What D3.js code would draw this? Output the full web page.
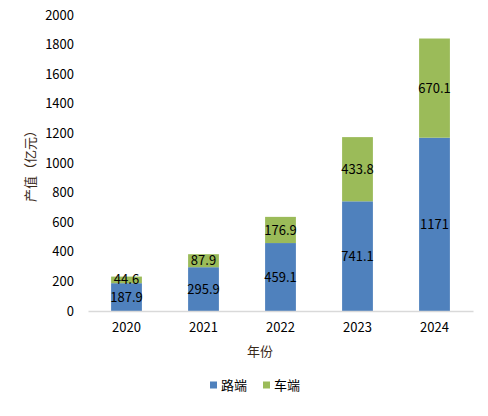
<!DOCTYPE html>
<html>
<head>
<meta charset="utf-8">
<script src="https://cdn.jsdelivr.net/npm/d3@7"></script>
<style>
  body { margin: 0; background: #fff; }
  text { font-family: "Noto Sans CJK SC", "Noto Sans", sans-serif; }
</style>
</head>
<body>
<script>
var years = ["2020", "2021", "2022", "2023", "2024"];
var roadSide = [187.9, 295.9, 459.1, 741.1, 1171];
var carSide = [44.6, 87.9, 176.9, 433.8, 670.1];
var seriesNames = ["路端", "车端"];
var seriesColors = ["#4F81BD", "#9BBB59"];
var yTicks = [0, 200, 400, 600, 800, 1000, 1200, 1400, 1600, 1800, 2000];

var width = 488, height = 416;
var margin = {top: 15, right: 15, bottom: 105, left: 88};
var plotW = width - margin.left - margin.right,
    plotH = height - margin.top - margin.bottom;

var svg = d3.select("body").append("svg")
  .attr("width", width)
  .attr("height", height);

var main = svg.append("g")
  .attr("transform", "translate(" + margin.left + "," + margin.top + ")");

var x = d3.scaleBand()
  .domain(years)
  .range([0, plotW])
  .paddingInner(0.6)
  .paddingOuter(0.3);

var y = d3.scaleLinear()
  .domain([0, 2000])
  .range([plotH, 0]);

// stacked data
var table = years.map(function(yr, i) {
  return {year: yr, road: roadSide[i], car: carSide[i]};
});
var stack = d3.stack().keys(["road", "car"]);
var layers = stack(table);

// y axis labels only (no line)
var yAxis = d3.axisLeft(y).tickValues(yTicks).tickFormat(d3.format("d")).tickSize(0).tickPadding(14);
var gy = main.append("g").call(yAxis);
gy.select(".domain").remove();
gy.selectAll("text").attr("font-size", "13px").attr("fill", "#000");

// bars
var layerG = main.selectAll(".layer")
  .data(layers)
  .enter().append("g")
  .attr("fill", function(d, i) { return seriesColors[i]; });

layerG.selectAll("rect")
  .data(function(d) { return d; })
  .enter().append("rect")
  .attr("x", function(d) { return x(d.data.year); })
  .attr("y", function(d) { return y(d[1]); })
  .attr("width", x.bandwidth())
  .attr("height", function(d) { return y(d[0]) - y(d[1]); });

// x axis
var xAxis = d3.axisBottom(x).tickSize(0).tickPadding(12);
var gx = main.append("g")
  .attr("transform", "translate(0," + plotH + ")")
  .call(xAxis);
gx.select(".domain").attr("stroke", "#d9d9d9").attr("stroke-width", 1.5);
gx.selectAll("text").attr("font-size", "13px").attr("fill", "#000");

// value labels
layerG.selectAll(".val")
  .data(function(d) { return d; })
  .enter().append("text")
  .attr("x", function(d) { return x(d.data.year) + x.bandwidth() / 2; })
  .attr("y", function(d) { return (y(d[0]) + y(d[1])) / 2; })
  .attr("dy", "0.35em")
  .attr("text-anchor", "middle")
  .attr("font-size", "13px")
  .attr("fill", "#000")
  .text(function(d) {
    var v = Math.round((d[1] - d[0]) * 10) / 10;
    return v === Math.round(v) ? d3.format("d")(v) : d3.format(".1f")(v);
  });

// axis titles
svg.append("text")
  .attr("text-anchor", "middle")
  .attr("transform", "translate(30," + 163 + ")rotate(-90)")
  .attr("dy", "0.35em")
  .attr("font-size", "13px")
  .attr("fill", "#3b2a1a")
  .text("产值（亿元）");

svg.append("text")
  .attr("text-anchor", "middle")
  .attr("x", 260)
  .attr("y", 351)
  .attr("dy", "0.35em")
  .attr("font-size", "13px")
  .attr("fill", "#3b2a1a")
  .text("年份");

// legend
var legend = svg.selectAll(".legend")
  .data(seriesNames)
  .enter().append("g")
  .attr("transform", function(d, i) { return "translate(" + (210 + i * 53) + ",385)"; });

legend.append("rect")
  .attr("x", 0)
  .attr("y", -3.5)
  .attr("width", 7)
  .attr("height", 7)
  .attr("fill", function(d, i) { return seriesColors[i]; });

legend.append("text")
  .attr("x", 11)
  .attr("dy", "0.35em")
  .attr("font-size", "13px")
  .attr("fill", "#000")
  .text(function(d) { return d; });
</script>
</body>
</html>
